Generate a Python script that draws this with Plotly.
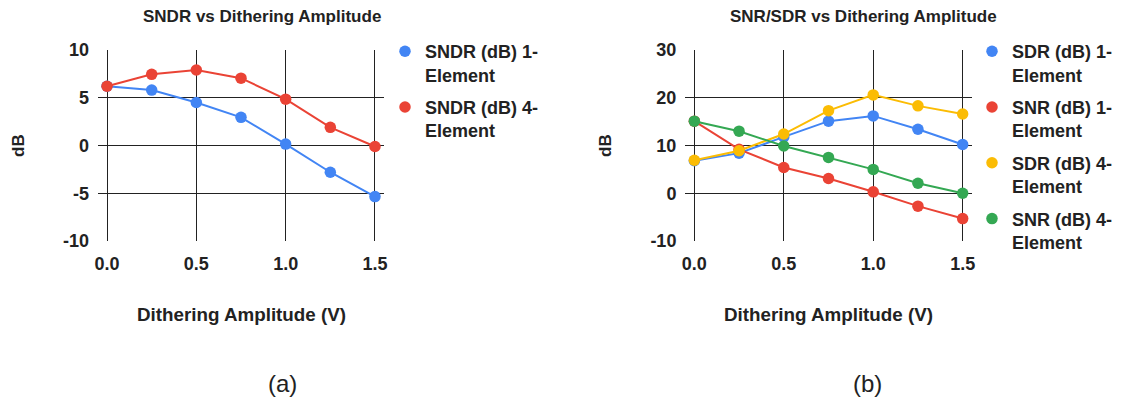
import plotly.graph_objects as go

amplitude = [0.0, 0.25, 0.5, 0.75, 1.0, 1.25, 1.5]

sndr_1 = [6.2, 5.8, 4.5, 2.95, 0.15, -2.8, -5.35]
sndr_4 = [6.2, 7.45, 7.9, 7.05, 4.85, 1.9, -0.1]

sdr_1 = [6.8, 8.4, 11.8, 15.1, 16.2, 13.4, 10.2]
snr_1 = [15.1, 9.2, 5.4, 3.1, 0.3, -2.7, -5.3]
sdr_4 = [6.9, 8.9, 12.4, 17.3, 20.6, 18.3, 16.6]
snr_4 = [15.1, 13.0, 9.9, 7.5, 5.0, 2.1, 0.0]

x_ticks = [0.0, 0.5, 1.0, 1.5]
x_ticktext = ["0.0", "0.5", "1.0", "1.5"]
ya_ticks = [-10, -5, 0, 5, 10]
ya_ticktext = ["-10", "-5", "0", "5", "10"]
yb_ticks = [-10, 0, 10, 20, 30]
yb_ticktext = ["-10", "0", "10", "20", "30"]

BLUE, RED, YELLOW, GREEN = "#4285F4", "#EA4335", "#FBBC04", "#34A853"
OFF = 8  # default page body margin
W, H = 1122 - OFF, 400 - OFF
FONT = "Liberation Sans, Arial, sans-serif"

fig = go.Figure()

def add_series(x, y, name, color, xa, ya, legend):
    fig.add_trace(go.Scatter(x=x, y=y, mode="lines", line=dict(color=color, width=2),
                             xaxis=xa, yaxis=ya, showlegend=False, hoverinfo="skip"))
    fig.add_trace(go.Scatter(x=x, y=y, mode="markers", name=name,
                             marker=dict(color=color, size=11.5),
                             xaxis=xa, yaxis=ya, legend=legend, legendgroup=name))

add_series(amplitude, sndr_1, "SNDR (dB) 1-<br>Element", BLUE, "x", "y", "legend")
add_series(amplitude, sndr_4, "SNDR (dB) 4-<br>Element", RED, "x", "y", "legend")
add_series(amplitude, sdr_1, "SDR (dB) 1-<br>Element", BLUE, "x2", "y2", "legend2")
add_series(amplitude, snr_1, "SNR (dB) 1-<br>Element", RED, "x2", "y2", "legend2")
add_series(amplitude, sdr_4, "SDR (dB) 4-<br>Element", YELLOW, "x2", "y2", "legend2")
add_series(amplitude, snr_4, "SNR (dB) 4-<br>Element", GREEN, "x2", "y2", "legend2")

def px(v):
    return (v - OFF) / W

def py(v):
    return 1 - (v - OFF) / H

grid = "#222222"
tickfont = dict(family=FONT, size=18, color="#222222", weight="bold")

xcommon = dict(range=[-0.05, 1.55], tickvals=x_ticks, ticktext=x_ticktext, showgrid=True,
               gridcolor=grid, gridwidth=1, zeroline=False, showline=False, ticks="",
               tickfont=tickfont, ticklabelstandoff=10, fixedrange=True)
ycommon = dict(showgrid=True, gridcolor=grid, gridwidth=1, zeroline=False, showline=False,
               ticks="", tickfont=tickfont, ticklabelstandoff=8, fixedrange=True)

legfont = dict(family=FONT, size=18, color="#222222", weight="bold")

fig.update_layout(
    width=W, height=H,
    margin=dict(l=0, r=0, t=0, b=0, autoexpand=False),
    paper_bgcolor="white", plot_bgcolor="white",
    font=dict(family=FONT, color="#222222"),
    xaxis=dict(domain=[px(98.1), px(383.9)], anchor="y", **xcommon),
    yaxis=dict(domain=[py(241), py(50)], anchor="x", range=[-10, 10],
               tickvals=ya_ticks, ticktext=ya_ticktext, **ycommon),
    xaxis2=dict(domain=[px(685.4), px(971.6)], anchor="y2", **xcommon),
    yaxis2=dict(domain=[py(241), py(50)], anchor="x2", range=[-10, 30],
                tickvals=yb_ticks, ticktext=yb_ticktext, **ycommon),
    legend=dict(x=px(385), y=py(33), xanchor="left", yanchor="top", valign="top",
                font=legfont, traceorder="grouped", tracegroupgap=6,
                bgcolor="rgba(0,0,0,0)"),
    legend2=dict(x=px(972), y=py(33), xanchor="left", yanchor="top", valign="top",
                 font=legfont, traceorder="grouped", tracegroupgap=6,
                 bgcolor="rgba(0,0,0,0)"),
    showlegend=True,
)

def ann(text, x, y, size, bold=True, angle=0, family=FONT):
    fig.add_annotation(text=text, x=px(x), y=py(y), xref="paper", yref="paper",
                       showarrow=False, xanchor="center", yanchor="middle", textangle=angle,
                       font=dict(family=family, size=size, color="#222222",
                                 weight="bold" if bold else "normal"))

ann("SNDR vs Dithering Amplitude", 262, 16, 17)
ann("SNR/SDR vs Dithering Amplitude", 863, 16, 17)
ann("dB", 18, 146, 17, angle=-90)
ann("dB", 605, 146, 17, angle=-90)
ann("Dithering Amplitude (V)", 241, 314, 18.8)
ann("Dithering Amplitude (V)", 829, 314, 18.8)
ann("(a)", 282, 383, 24, bold=False)
ann("(b)", 867, 383, 24, bold=False)

fig.write_html("out.html")
